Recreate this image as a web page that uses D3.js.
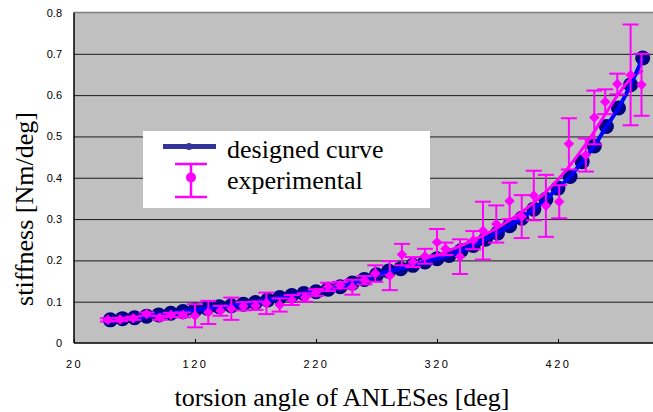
<!DOCTYPE html>
<html>
<head>
<meta charset="utf-8">
<script src="https://cdn.jsdelivr.net/npm/d3@7"></script>
<style>
    body { margin: 0; background: #ffffff; }
    svg { display: block; }
</style>
</head>
<body>
<svg id="chart" width="653" height="412"></svg>
<script>
// designed curve: torsion angle [deg] -> stiffness [Nm/deg]
const designedAngles = [50, 60, 70, 80, 90, 100, 110, 120, 130, 140, 150, 160, 170, 180, 190,
    200, 210, 220, 230, 240, 250, 260, 270, 280, 290, 300, 310, 320, 330, 340,
    350, 360, 370, 380, 390, 400, 410, 420, 430, 440, 450, 460, 470, 480, 490];
const designedStiffness = [0.056, 0.059, 0.061, 0.065, 0.068, 0.072, 0.076, 0.080, 0.084, 0.088,
    0.090, 0.094, 0.098, 0.104, 0.110, 0.115, 0.120, 0.124, 0.130, 0.136,
    0.145, 0.154, 0.165, 0.174, 0.180, 0.188, 0.196, 0.204, 0.212, 0.224,
    0.236, 0.251, 0.266, 0.284, 0.302, 0.324, 0.348, 0.375, 0.403, 0.439,
    0.477, 0.524, 0.569, 0.625, 0.690];

// smooth magenta line that runs along the experimental data
const expTrend = [0.056, 0.058, 0.061, 0.064, 0.067, 0.071, 0.075, 0.079, 0.083, 0.087,
    0.091, 0.095, 0.100, 0.105, 0.110, 0.115, 0.121, 0.127, 0.133, 0.140,
    0.147, 0.155, 0.163, 0.172, 0.181, 0.191, 0.201, 0.212, 0.224, 0.236,
    0.249, 0.263, 0.279, 0.297, 0.317, 0.340, 0.366, 0.396, 0.430, 0.469,
    0.512, 0.558, 0.603, 0.640, 0.660];

// experimental: angle, mean stiffness, error
const expAngles = [48, 58, 69, 80, 91, 100, 110, 120, 131, 141, 150, 160, 170, 179, 190,
    200, 211, 220, 230, 240, 250, 260, 269, 281, 291, 300, 310, 320, 327, 339,
    350, 358, 369, 380, 390, 400, 410, 421, 429, 443, 450, 459, 469, 480, 489];
const expStiffness = [0.056, 0.057, 0.060, 0.070, 0.061, 0.068, 0.068, 0.066, 0.074, 0.078,
    0.083, 0.089, 0.090, 0.096, 0.092, 0.104, 0.110, 0.122, 0.136, 0.140,
    0.135, 0.152, 0.168, 0.163, 0.214, 0.196, 0.210, 0.244, 0.228, 0.209,
    0.249, 0.272, 0.288, 0.344, 0.306, 0.357, 0.332, 0.342, 0.482, 0.455,
    0.546, 0.584, 0.627, 0.649, 0.625];
const expError = [0.004, 0.004, 0.004, 0.004, 0.005, 0.005, 0.006, 0.028, 0.028, 0.012,
    0.027, 0.010, 0.010, 0.026, 0.016, 0.012, 0.010, 0.008, 0.010, 0.008,
    0.018, 0.010, 0.020, 0.035, 0.026, 0.012, 0.018, 0.032, 0.015, 0.042,
    0.022, 0.070, 0.045, 0.044, 0.052, 0.060, 0.075, 0.040, 0.062, 0.040,
    0.065, 0.030, 0.025, 0.122, 0.075];

const xTicks = [20, 120, 220, 320, 420];
const yTicks = [0, 0.1, 0.2, 0.3, 0.4, 0.5, 0.6, 0.7, 0.8];

const PLOT = {left: 74, top: 12.5, right: 679, bottom: 343};
const SERIF = "'Liberation Serif', 'Times New Roman', serif";
const SANS = "'Liberation Sans', Arial, sans-serif";

const svg = d3.select("#chart");
const x = d3.scaleLinear().domain([20, 520]).range([PLOT.left, PLOT.right]);
const y = d3.scaleLinear().domain([0, 0.8]).range([PLOT.bottom, PLOT.top]);

function drawPlotArea() {
    svg.append("rect").attr("x", PLOT.left).attr("y", PLOT.top)
        .attr("width", PLOT.right - PLOT.left).attr("height", PLOT.bottom - PLOT.top)
        .style("fill", "#c0c0c0");
    svg.append("line").attr("x1", PLOT.left).attr("x2", PLOT.right)
        .attr("y1", PLOT.top).attr("y2", PLOT.top).style("stroke", "#808080").style("stroke-width", 1.5);
}

function drawAxes() {
    let yAxis = d3.axisLeft(y).tickValues(yTicks).tickSize(-(PLOT.right - PLOT.left))
        .tickPadding(12).tickFormat(d => d === 0 ? "0" : d3.format(".1f")(d));
    let gy = svg.append("g").attr("transform", `translate(${PLOT.left},0)`).call(yAxis);
    gy.select(".domain").remove();
    gy.selectAll(".tick line").style("stroke", "#1a1a1a").style("stroke-width", 1)
        .filter(d => d === 0 || d === 0.8).remove();
    gy.selectAll(".tick text").style("font-family", SANS).style("font-size", "11px").style("fill", "#000");

    let xAxis = d3.axisBottom(x).tickValues(xTicks).tickSize(-4).tickPadding(17);
    let gx = svg.append("g").attr("transform", `translate(0,${PLOT.bottom})`).call(xAxis);
    gx.select(".domain").remove();
    gx.selectAll(".tick line").style("stroke", "#000");
    gx.selectAll(".tick text").style("font-family", SANS).style("font-size", "11px")
        .style("letter-spacing", "2.5px").style("fill", "#000");

    svg.append("line").attr("x1", PLOT.left).attr("x2", PLOT.right)
        .attr("y1", PLOT.bottom).attr("y2", PLOT.bottom).style("stroke", "#000").style("stroke-width", 1.5);
    svg.append("line").attr("x1", PLOT.left).attr("x2", PLOT.left)
        .attr("y1", PLOT.top).attr("y2", PLOT.bottom).style("stroke", "#000").style("stroke-width", 1.5);
}

function drawDesigned() {
    let pts = designedAngles.map((a, i) => [a, designedStiffness[i]]);
    svg.append("g").selectAll("circle").data(pts).join("circle")
        .attr("cx", d => x(d[0])).attr("cy", d => y(d[1])).attr("r", 7.5)
        .style("fill", "#000080");
}

function drawLines() {
    let line = d3.line().x(d => x(d[0])).y(d => y(d[1])).curve(d3.curveMonotoneX);
    let trend = designedAngles.map((a, i) => [a, expTrend[i]]);
    svg.append("path").attr("d", line(trend))
        .style("fill", "none").style("stroke", "#ff00ff").style("stroke-width", 3);

    let pts = designedAngles.map((a, i) => [a, designedStiffness[i]]);
    svg.append("path").attr("d", line(pts))
        .style("fill", "none").style("stroke", "#0000ff").style("stroke-width", 4);
}

function drawExperimental() {
    let pts = expAngles.map((a, i) => ({a: a, v: expStiffness[i], e: expError[i]}));
    let g = svg.append("g").style("stroke", "#ff00ff").style("stroke-width", 2);

    let bars = g.selectAll("g.bar").data(pts).join("g").attr("class", "bar");
    bars.append("line").attr("x1", d => x(d.a)).attr("x2", d => x(d.a))
        .attr("y1", d => y(d.v + d.e)).attr("y2", d => y(d.v - d.e));
    bars.append("line").attr("x1", d => x(d.a) - 8).attr("x2", d => x(d.a) + 8)
        .attr("y1", d => y(d.v + d.e)).attr("y2", d => y(d.v + d.e));
    bars.append("line").attr("x1", d => x(d.a) - 8).attr("x2", d => x(d.a) + 8)
        .attr("y1", d => y(d.v - d.e)).attr("y2", d => y(d.v - d.e));

    let diamond = d3.symbol().type(d3.symbolDiamond2).size(70);
    svg.append("g").selectAll("path").data(pts).join("path")
        .attr("d", diamond).attr("transform", d => `translate(${x(d.a)},${y(d.v)})`)
        .style("fill", "#ff00ff");
}

function drawLegend() {
    let g = svg.append("g");
    g.append("rect").attr("x", 143).attr("y", 131).attr("width", 287).attr("height", 77).style("fill", "#ffffff");

    g.append("line").attr("x1", 163).attr("x2", 216).attr("y1", 146.5).attr("y2", 146.5)
        .style("stroke", "#333399").style("stroke-width", 5);
    g.append("circle").attr("cx", 189).attr("cy", 146.5).attr("r", 3.5).style("fill", "#333399");
    g.append("text").attr("x", 227).attr("y", 158).text("designed curve")
        .style("font-family", SERIF).style("font-size", "26px").style("fill", "#000");

    let e = g.append("g").style("stroke", "#ff00ff").style("stroke-width", 2.5);
    e.append("line").attr("x1", 191).attr("x2", 191).attr("y1", 164).attr("y2", 197);
    e.append("line").attr("x1", 175).attr("x2", 207).attr("y1", 164).attr("y2", 164);
    e.append("line").attr("x1", 175).attr("x2", 207).attr("y1", 197).attr("y2", 197);
    g.append("circle").attr("cx", 191).attr("cy", 177.5).attr("r", 5).style("fill", "#ff00ff");
    g.append("text").attr("x", 227).attr("y", 189).text("experimental")
        .style("font-family", SERIF).style("font-size", "26px").style("fill", "#000");
}

function drawTitles() {
    svg.append("text").attr("x", 342).attr("y", 406).attr("text-anchor", "middle")
        .text("torsion angle of ANLESes [deg]")
        .style("font-family", SERIF).style("font-size", "26px").style("fill", "#000");
    svg.append("text").attr("transform", "translate(33,209) rotate(-90)").attr("text-anchor", "middle")
        .text("stiffness [Nm/deg]")
        .style("font-family", SERIF).style("font-size", "26px").style("fill", "#000");
}

drawPlotArea();
drawAxes();
drawDesigned();
drawLines();
drawExperimental();
drawLegend();
drawTitles();
</script>
</body>
</html>
